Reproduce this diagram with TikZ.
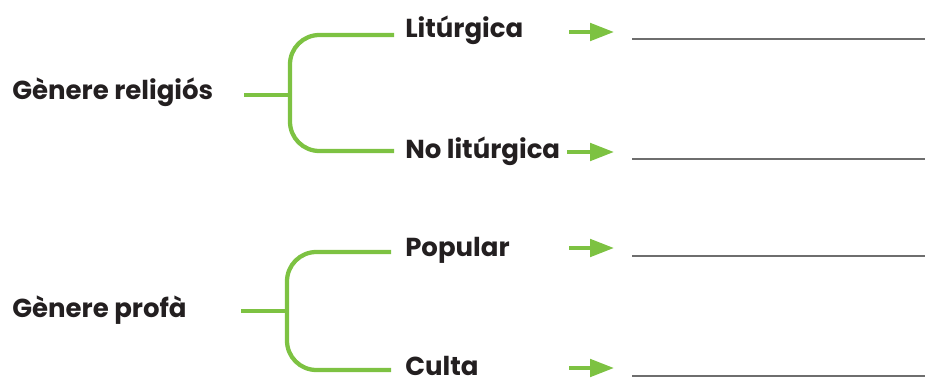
\documentclass[tikz,border=0pt]{standalone}
\usepackage{fontspec}
\setmainfont{Poppins}
\usepackage{xcolor}
\usepackage{tikz}
\usetikzlibrary{positioning,calc,arrows.meta}
\definecolor{GenreGreen}{RGB}{125,194,66}
\definecolor{GenreInk}{RGB}{35,31,32}
\definecolor{BlankGray}{RGB}{110,110,110}
\tikzset{
    genre/.style={font=\bfseries\fontsize{19.5}{22}\selectfont, text=GenreInk, inner sep=0pt, anchor=base west},
    branch/.style={draw=GenreGreen, line width=3.2pt, rounded corners=22pt},
    stem/.style={draw=GenreGreen, line width=3.2pt},
    pointer/.style={draw=GenreGreen, line width=3pt, -{Triangle[length=18pt, width=13pt]}},
    blank/.style={draw=BlankGray, line width=1pt}
}

\begin{document}
\begin{tikzpicture}[x=0.75pt, y=-0.75pt]
        \useasboundingbox (0,0) rectangle (925,378);

        % --- Gènere religiós ---
        \node[genre] (rel) at (12,99) {Gènere religiós};
        \node[genre] (lit) at (405,38) {Litúrgica};
        \node[genre] (nolit) at (405,158) {No litúrgica};
        \coordinate (rel-stem) at (244,95);
        \coordinate (rel-mid) at (290,95);
        \coordinate (rel-top) at (394,35);
        \coordinate (rel-bot) at (394,151);
        \draw[stem] (rel-stem) -- (rel-mid);
        \draw[branch] (rel-top) -| (rel-mid) |- (rel-bot);
        % fletxes i línies en blanc
        \coordinate (lit-a) at (569,32);
        \coordinate (lit-b) at (614,32);
        \coordinate (nolit-a) at (567,152);
        \coordinate (nolit-b) at (614,152);
        \draw[pointer] (lit-a) -- (lit-b);
        \draw[pointer] (nolit-a) -- (nolit-b);
        \coordinate (lit-l) at (632,39);
        \coordinate (lit-r) at (925,39);
        \coordinate (nolit-l) at (632,159);
        \coordinate (nolit-r) at (925,159);
        \draw[blank] (lit-l) -- (lit-r);
        \draw[blank] (nolit-l) -- (nolit-r);

        % --- Gènere profà ---
        \node[genre] (prof) at (12,317) {Gènere profà};
        \node[genre] (pop) at (405,256) {Popular};
        \node[genre] (cult) at (405,375) {Culta};
        \coordinate (prof-stem) at (241,311);
        \coordinate (prof-mid) at (287,311);
        \coordinate (prof-top) at (391,252);
        \coordinate (prof-bot) at (391,370);
        \draw[stem] (prof-stem) -- (prof-mid);
        \draw[branch] (prof-top) -| (prof-mid) |- (prof-bot);
        % fletxes i línies en blanc
        \coordinate (pop-a) at (569,248);
        \coordinate (pop-b) at (614,248);
        \coordinate (cult-a) at (569,368);
        \coordinate (cult-b) at (614,368);
        \draw[pointer] (pop-a) -- (pop-b);
        \draw[pointer] (cult-a) -- (cult-b);
        \coordinate (pop-l) at (632,256);
        \coordinate (pop-r) at (925,256);
        \coordinate (cult-l) at (632,376);
        \coordinate (cult-r) at (925,376);
        \draw[blank] (pop-l) -- (pop-r);
        \draw[blank] (cult-l) -- (cult-r);

    \end{tikzpicture}
\end{document}
